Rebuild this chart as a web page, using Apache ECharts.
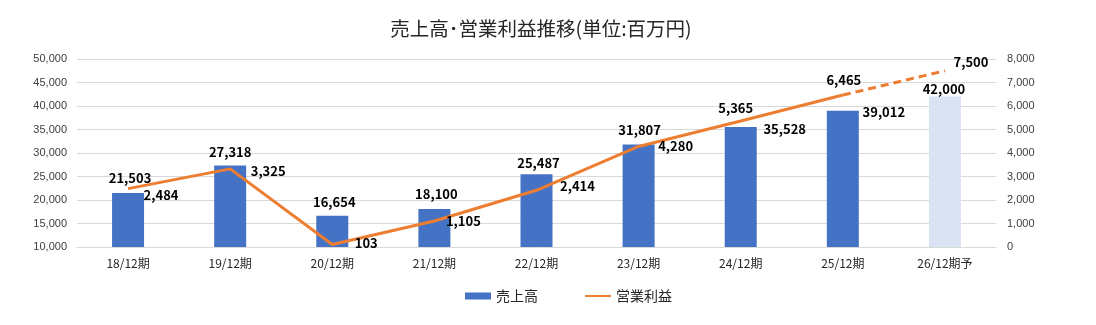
<!DOCTYPE html>
<html><head><meta charset="utf-8">
<script src="https://cdn.jsdelivr.net/npm/echarts@6/dist/echarts.min.js"></script>
<style>html,body{margin:0;padding:0;background:#fff}#c{width:1096px;height:325px}</style>
</head><body><div id="c"></div>
<script>
// ---- data ----
const titleText = '売上高･営業利益推移(単位:百万円)';
const categories = ['18/12期','19/12期','20/12期','21/12期','22/12期','23/12期','24/12期','25/12期','26/12期予'];
const sales = [21503, 27318, 16654, 18100, 25487, 31807, 35528, 39012, 42000];
const profit = [2484, 3325, 103, 1105, 2414, 4280, 5365, 6465, 7500];
const forecastIndex = 8;
const salesName = '売上高';
const profitName = '営業利益';

// ---- label placement (style) ----
const barLabelOffsets = [[2,-8],[0,-7],[2,-7],[2,-8],[2,-5],[1,-8],[44,9],[41,8],[-1,-1]];
const lineLabelOffsets = [[33,6],[38,2],[34,-2],[29,0],[41,-4],[37,0],[-5,-13],[1,-15],[26,-9]];

const fmt = v => Number(v).toLocaleString('en-US');
const labelFont = {color:'#000', fontSize:13, fontWeight:'bold', fontFamily:'"Noto Sans CJK JP", sans-serif'};

const barData = sales.map((v,i) => ({
  value: v,
  itemStyle: { color: i === forecastIndex ? '#dae3f3' : '#4472c4' },
  label: Object.assign({ show:true, position:'top', distance:0, offset: barLabelOffsets[i], formatter: p => fmt(p.value) }, labelFont)
}));

const solidData = profit.map((v,i) => i < forecastIndex ? {
  value: v,
  label: Object.assign({ show:true, position:'inside', offset: lineLabelOffsets[i], formatter: p => fmt(p.value) }, labelFont)
} : null);

const dashedData = profit.map((v,i) => i >= forecastIndex - 1 ? {
  value: v,
  label: Object.assign({ show: i >= forecastIndex, position:'inside', offset: lineLabelOffsets[i], formatter: p => fmt(p.value) }, labelFont)
} : null);

const chart = echarts.init(document.getElementById('c'), null, {renderer:'canvas'});
chart.setOption({
  animation:false,
  backgroundColor:'#fff',
  title:{
    text:titleText, left:536, textAlign:'center', top:14,
    textStyle:{fontSize:19.5, fontWeight:'normal', color:'#262626', fontFamily:'"Noto Sans CJK JP", sans-serif'}
  },
  legend:{
    data:[{name:salesName, icon:'rect'}, {name:profitName, itemStyle:{opacity:0}}],
    left:460, top:284, itemWidth:26, itemHeight:7, itemGap:46,
    textStyle:{fontSize:14, color:'#262626', fontFamily:'"Noto Sans CJK JP", sans-serif'}
  },
  grid:{left:77, top:59, width:919, height:188, containLabel:false},
  xAxis:{
    type:'category', data:categories,
    axisLine:{show:true, lineStyle:{color:'#d9d9d9'}},
    axisTick:{show:false},
    axisLabel:{color:'#262626', fontSize:12, margin:10, fontFamily:'"Noto Sans CJK JP", sans-serif'}
  },
  yAxis:[
    {type:'value', min:10000, max:50000, interval:5000,
     axisLine:{show:false}, axisTick:{show:false},
     axisLabel:{color:'#404040', fontSize:11, margin:10, fontFamily:'"Liberation Sans", Arial, sans-serif', formatter: v => fmt(v)},
     splitLine:{lineStyle:{color:'#d9d9d9', width:1}}},
    {type:'value', min:0, max:8000, interval:1000, position:'right',
     axisLine:{show:false}, axisTick:{show:false},
     axisLabel:{color:'#404040', fontSize:11, margin:11, fontFamily:'"Liberation Sans", Arial, sans-serif', formatter: v => fmt(v)},
     splitLine:{show:false}}
  ],
  series:[
    {name:salesName, type:'bar', data:barData, barWidth:32, yAxisIndex:0,
     itemStyle:{color:'#4472c4'}},
    {name:profitName, type:'line', data:solidData, yAxisIndex:1,
     symbol:'circle', symbolSize:0.1, showSymbol:true,
     itemStyle:{color:'#ed7d31'}, lineStyle:{color:'#ed7d31', width:3}, z:3},
    {name:profitName + '(予)', type:'line', data:dashedData, yAxisIndex:1,
     symbol:'circle', symbolSize:0.1, showSymbol:true,
     itemStyle:{color:'#ed7d31'}, lineStyle:{color:'#ed7d31', width:3, type:[8,5]}, z:3}
  ]
});
</script></body></html>
